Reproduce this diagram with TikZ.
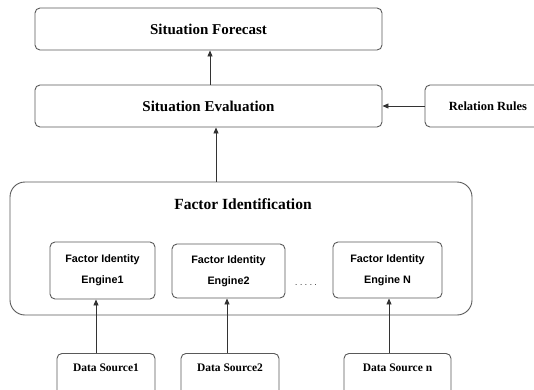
\documentclass[tikz,border=0pt]{standalone}
\usepackage{fontspec}
\setmainfont{Liberation Serif}
\setsansfont{Liberation Sans}
\usetikzlibrary{arrows.meta,calc}
\begin{document}
\begin{tikzpicture}[x=1pt,y=-1pt,
  box/.style={draw=black!65,line width=0.9pt,rounded corners=5pt,inner sep=0pt,font=\bfseries},
  eng/.style={box,align=center,font=\sffamily\bfseries\fontsize{10.8}{21}\selectfont},
  src/.style={box,font=\bfseries\fontsize{11.5}{13}\selectfont,text height=14pt,text depth=24pt,inner sep=4pt},
  arr/.style={draw=black!80,line width=0.8pt,-{Triangle[length=6pt,width=5pt]}}]
\useasboundingbox (0,0) rectangle (534,389);
\node[box,minimum width=347pt,minimum height=42pt,font=\bfseries\fontsize{15}{17}\selectfont] (fore) at (208.5,29) {Situation Forecast};
\node[box,minimum width=347pt,minimum height=42pt,font=\bfseries\fontsize{15}{17}\selectfont] (eval) at (208.5,106) {Situation Evaluation};
\node[box,minimum width=126pt,minimum height=42pt,font=\bfseries\fontsize{12.5}{14}\selectfont] (rel) at (488,106) {Relation Rules};
\node[box,rounded corners=15pt,minimum width=462pt,minimum height=133pt] (fid) at (241,248.5) {};
\node[font=\bfseries\fontsize{15.5}{17}\selectfont,inner sep=0pt] (fidt) at (243,204) {Factor Identification};
\node[eng,minimum width=105pt,minimum height=57pt] (e1) at (102.5,270.5) {Factor Identity\\Engine1};
\node[eng,minimum width=113pt,minimum height=54pt] (e2) at (228.5,271) {Factor Identity\\Engine2};
\node[eng,minimum width=109pt,minimum height=56pt] (eN) at (387.5,270) {Factor Identity\\Engine N};
\node[font=\sffamily\fontsize{8}{10}\selectfont,inner sep=0pt] (dots) at (306,285) {.\,\,.\,\,.\,\,.\,\,.};
\node[src,minimum width=98pt,anchor=north] (d1) at (106,353) {Data Source1};
\node[src,minimum width=98pt,anchor=north] (d2) at (230,353) {Data Source2};
\node[src,minimum width=107pt,anchor=north] (dN) at (397.5,353) {Data Source n};
\draw[arr] ([xshift=1.5pt]eval.north) -- ([xshift=1.5pt]eval.north |- fore.south);
\draw[arr] ([xshift=-25pt]fid.north) -- ([xshift=-25pt]fid.north |- eval.south);
\draw[arr] (rel.west) -- (eval.east);
\draw[arr] ([xshift=-10pt]d1.north) -- ([xshift=-10pt]d1.north |- e1.south);
\draw[arr] ([xshift=-3pt]d2.north) -- ([xshift=-3pt]d2.north |- e2.south);
\draw[arr] ([xshift=-8.5pt]dN.north) -- ([xshift=-8.5pt]dN.north |- eN.south);
\end{tikzpicture}
\end{document}
